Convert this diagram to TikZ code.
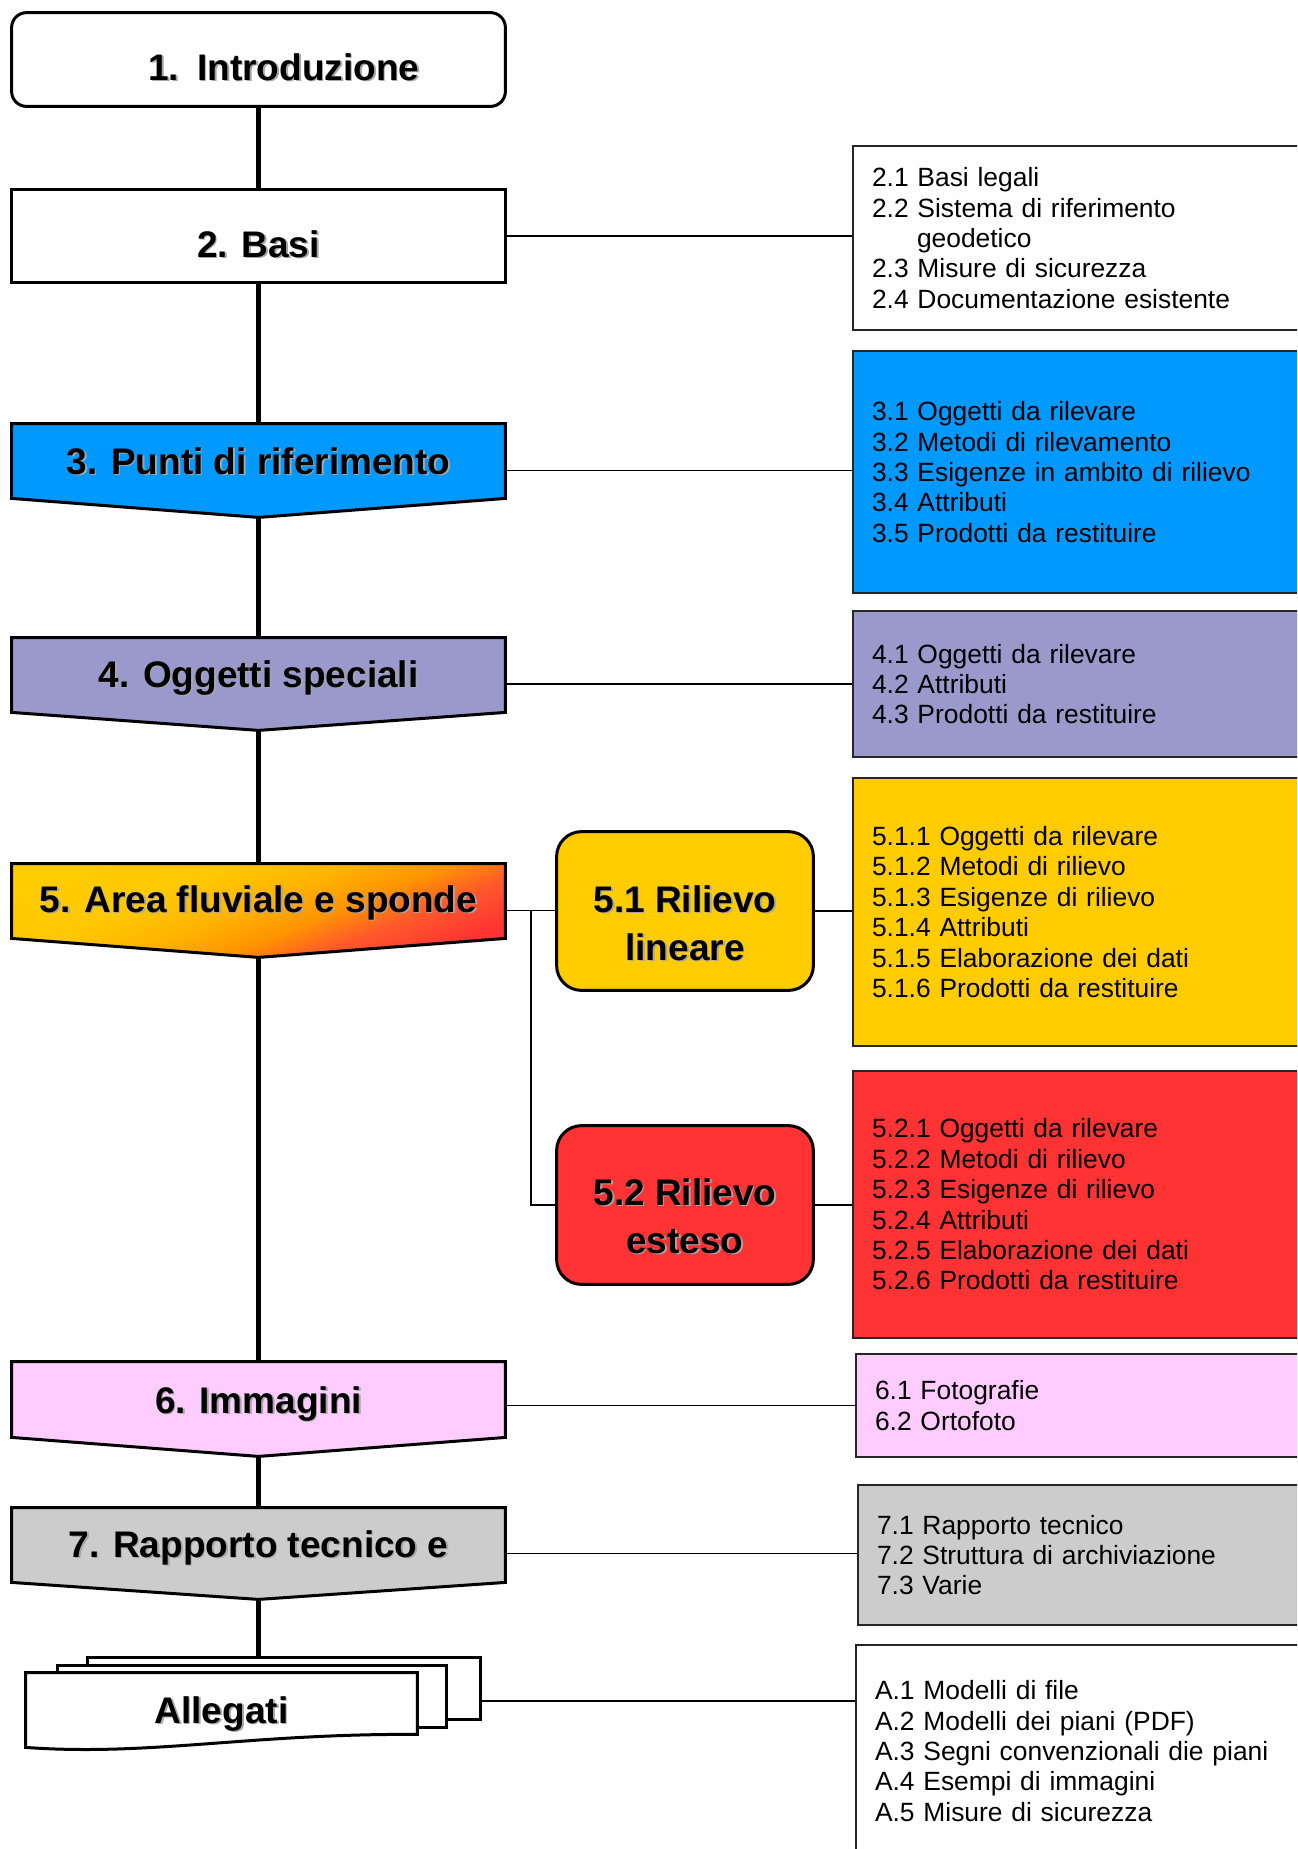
\documentclass[tikz,border=0pt]{standalone}
\usepackage{fontspec}
\setmainfont{Liberation Sans}
\usetikzlibrary{calc}
\definecolor{cblue}{HTML}{0099FF}
\definecolor{cpurp}{HTML}{9999CC}
\definecolor{cyel}{HTML}{FFCC00}
\definecolor{cyelA}{HTML}{FFC800}
\definecolor{cyelB}{HTML}{FFB400}
\definecolor{corA}{HTML}{FF9400}
\definecolor{corB}{HTML}{FF5A2A}
\definecolor{cred}{HTML}{FF3333}
\definecolor{cpink}{HTML}{FFCCFF}
\definecolor{cgray}{HTML}{CCCCCC}
\pgfdeclareverticalshading{fiveshade}{100bp}{color(0bp)=(cred); color(25bp)=(cred); color(35bp)=(corB); color(43bp)=(corA); color(52bp)=(cyelB); color(62bp)=(cyelA); color(75bp)=(cyel); color(100bp)=(cyel)}
\newcommand{\pxu}{0.5pt}
\newcommand{\shd}[1]{\makebox[0pt][l]{\hspace{0.8pt}\raisebox{-0.8pt}{\textcolor{black!35}{#1}}}#1}
\begin{document}
\begin{tikzpicture}[x=0.5pt,y=-0.5pt,
  shapebox/.style={inner sep=0pt, minimum width=493*\pxu},
  outline/.style={draw=black, line width=1.5pt, line join=miter},
  ttl/.style={inner sep=0pt, anchor=base, align=center, font=\fontsize{18.5pt}{24pt}\selectfont\bfseries},
  rbox/.style={draw=black!85, line width=1pt, anchor=north west, align=left, inner xsep=9.5pt, inner ysep=0pt, text width=222pt, font=\fontsize{13.2pt}{15.2pt}\selectfont},
  trunk/.style={line width=2.5pt},
  thinline/.style={line width=0.9pt},
]
\useasboundingbox (0,0) rectangle (1297,1849);
\clip (0,0) rectangle (1297,1849);

% ---------- title shapes (invisible frames) ----------
\node[shapebox, minimum height=93*\pxu] (b1) at (258.5,59.5) {};
\node[shapebox, minimum height=92*\pxu] (b2) at (258.5,236) {};
\node[shapebox, minimum height=93*\pxu] (b3) at (258.5,470.5) {};
\node[shapebox, minimum height=92*\pxu] (b4) at (258.5,684) {};
\node[shapebox, minimum height=93*\pxu] (b5) at (258.5,910.5) {};
\node[shapebox, minimum height=94*\pxu] (b6) at (258.5,1409) {};
\node[shapebox, minimum height=91*\pxu] (b7) at (258.5,1553.5) {};
\node[inner sep=0pt, minimum width=392*\pxu, minimum height=61*\pxu] (pg3) at (284,1688.5) {};
\node[inner sep=0pt, minimum width=388*\pxu, minimum height=61*\pxu] (pg2) at (252,1696.5) {};
\node[inner sep=0pt, minimum width=391*\pxu, minimum height=74*\pxu] (all) at (221.5,1710) {};

% ---------- sub boxes ----------
\node[inner sep=0pt, minimum width=256*\pxu, minimum height=158*\pxu] (s51) at (685,911) {};
\node[inner sep=0pt, minimum width=256*\pxu, minimum height=158*\pxu] (s52) at (685,1205) {};

% ---------- right list boxes ----------
\node[rbox, fill=white, minimum height=184*\pxu] (r2) at (852,145)
  {2.1 Basi legali\\2.2 Sistema di riferimento\\\hspace*{22.5pt}geodetico\\2.3 Misure di sicurezza\\2.4 Documentazione esistente};
\node[rbox, fill=cblue, minimum height=242*\pxu] (r3) at (852,350)
  {3.1 Oggetti da rilevare\\3.2 Metodi di rilevamento\\3.3 Esigenze in ambito di rilievo\\3.4 Attributi\\3.5 Prodotti da restituire};
\node[rbox, fill=cpurp, minimum height=146*\pxu] (r4) at (852,610)
  {4.1 Oggetti da rilevare\\4.2 Attributi\\4.3 Prodotti da restituire};
\node[rbox, fill=cyel, minimum height=268*\pxu] (r51) at (852,777)
  {5.1.1 Oggetti da rilevare\\5.1.2 Metodi di rilievo\\5.1.3 Esigenze di rilievo\\5.1.4 Attributi\\5.1.5 Elaborazione dei dati\\5.1.6 Prodotti da restituire};
\node[rbox, fill=cred, minimum height=267*\pxu] (r52) at (852,1070)
  {5.2.1 Oggetti da rilevare\\5.2.2 Metodi di rilievo\\5.2.3 Esigenze di rilievo\\5.2.4 Attributi\\5.2.5 Elaborazione dei dati\\5.2.6 Prodotti da restituire};
\node[rbox, fill=cpink, minimum height=103*\pxu] (r6) at (855,1353)
  {6.1 Fotografie\\6.2 Ortofoto};
\node[rbox, fill=cgray, minimum height=140*\pxu] (r7) at (857,1484)
  {7.1 Rapporto tecnico\\7.2 Struttura di archiviazione\\7.3 Varie};
\node[rbox, fill=white, minimum height=212*\pxu] (rA) at (855,1644)
  {A.1 Modelli di file\\A.2 Modelli dei piani (PDF)\\A.3 Segni convenzionali die piani\\A.4 Esempi di immagini\\A.5 Misure di sicurezza};

% ---------- connectors ----------
\draw[trunk] (b1.south) -- (b2.north);
\draw[trunk] (b2.south) -- (b3.north);
\draw[trunk] (b3.south) -- (b4.north);
\draw[trunk] (b4.south) -- (b5.north);
\draw[trunk] (b5.south) -- (b6.north);
\draw[trunk] (b6.south) -- (b7.north);
\draw[trunk] (b7.south) -- (b7.south |- pg3.north);

\draw[thinline] (b2.east) -- (b2.east -| r2.west);
\draw[thinline] (b3.east) -- (b3.east -| r3.west);
\draw[thinline] (b4.east) -- (b4.east -| r4.west);
\draw[thinline] (b5.east) -- (b5.east -| s51.west);
\coordinate (br) at ($(b5.east)!0.5!(b5.east -| s51.west)$);
\draw[thinline] (br) |- (s52.west);
\draw[thinline] (s51.east) -- (s51.east -| r51.west);
\draw[thinline] (s52.east) -- (s52.east -| r52.west);
\draw[thinline] (r6.west -| b6.east) -- (r6.west);
\draw[thinline] (b7.east) -- (b7.east -| r7.west);
\coordinate (ac) at ($(pg3.north east)!0.7!(pg3.south east)$);
\draw[thinline] (ac) -- (ac -| rA.west);

% ---------- shapes ----------
\draw[outline, fill=white, rounded corners=7.5pt] (b1.north west) rectangle (b1.south east);
\draw[outline, fill=white] (b2.north west) rectangle (b2.south east);
\draw[outline, fill=cblue] (b3.north west) -- (b3.north east) -- ($(b3.south east)+(0,-19)$) -- (b3.south) -- ($(b3.south west)+(0,-19)$) -- cycle;
\draw[outline, fill=cpurp] (b4.north west) -- (b4.north east) -- ($(b4.south east)+(0,-18)$) -- (b4.south) -- ($(b4.south west)+(0,-18)$) -- cycle;
\draw[outline, shading=fiveshade, shading angle=22] (b5.north west) -- (b5.north east) -- ($(b5.south east)+(0,-19)$) -- (b5.south) -- ($(b5.south west)+(0,-19)$) -- cycle;
\draw[outline, fill=cpink] (b6.north west) -- (b6.north east) -- ($(b6.south east)+(0,-19)$) -- (b6.south) -- ($(b6.south west)+(0,-19)$) -- cycle;
\draw[outline, fill=cgray] (b7.north west) -- (b7.north east) -- ($(b7.south east)+(0,-17)$) -- (b7.south) -- ($(b7.south west)+(0,-17)$) -- cycle;
\draw[outline, fill=white] (pg3.north west) rectangle (pg3.south east);
\draw[outline, fill=white] (pg2.north west) rectangle (pg2.south east);
\draw[outline, fill=white] (all.north west) -- (all.north east) -- ($(all.south east)+(0,-13)$)
  .. controls ($(all.south)+(28.5,-14)$) and ($(all.south)+(-71.5,9)$) .. (all.south west) -- cycle;
\draw[outline, fill=cyel, rounded corners=12.5pt] (s51.north west) rectangle (s51.south east);
\draw[outline, fill=cred, rounded corners=12.5pt] (s52.north west) rectangle (s52.south east);

% ---------- titles ----------
\node[ttl, anchor=base west] (t1) at (148,80) {\shd{1.\hspace{9pt}Introduzione}};
\node[ttl] (t2) at (258.5,257) {\shd{2. Basi}};
\node[ttl] (t3) at (258.5,474) {\shd{3. Punti di riferimento}};
\node[ttl] (t4) at (258.5,687) {\shd{4. Oggetti speciali}};
\node[ttl] (t5) at (258.5,912) {\shd{5. Area fluviale e sponde}};
\node[ttl] (t51) at (685,960) {\shd{5.1 Rilievo}\\\shd{lineare}};
\node[ttl] (t52) at (685,1253) {\shd{5.2 Rilievo}\\\shd{esteso}};
\node[ttl] (t6) at (258.5,1413) {\shd{6. Immagini}};
\node[ttl] (t7) at (258.5,1557) {\shd{7. Rapporto tecnico e}};
\node[ttl] (tA) at (221.5,1723) {\shd{Allegati}};
\end{tikzpicture}
\end{document}
